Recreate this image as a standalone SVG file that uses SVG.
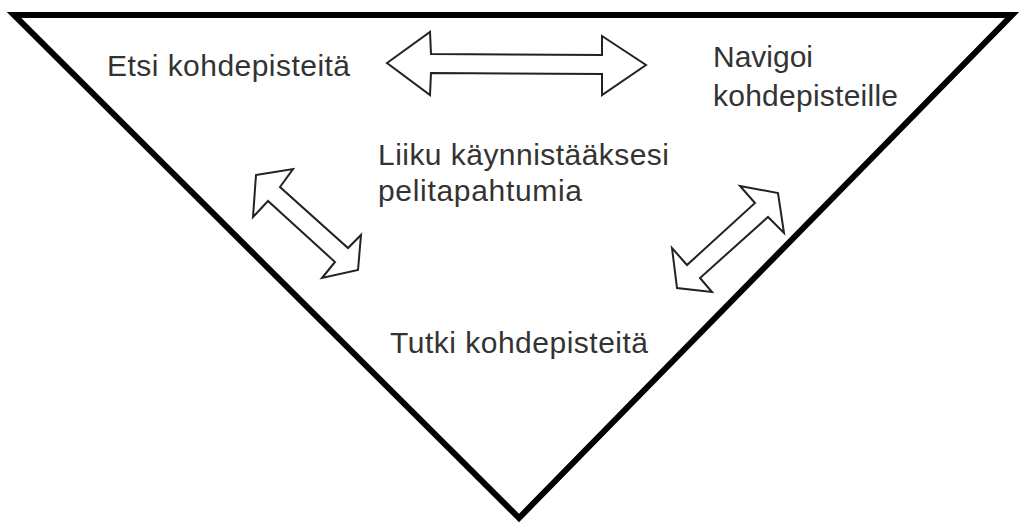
<svg xmlns="http://www.w3.org/2000/svg" width="1021" height="526" viewBox="0 0 1021 526">
  <style>
    .frame { fill: none; stroke: #000; stroke-width: 6; stroke-linejoin: miter; }
    .arrow { fill: #fff; stroke: #222; stroke-width: 2; stroke-linejoin: miter; }
    .label { font-family: "Liberation Sans", Arial, sans-serif; font-size: 30px; fill: #333; }
  </style>
  <rect width="1021" height="526" fill="#fff"/>
  <!-- inverted triangle frame -->
  <g id="frame">
    <polygon class="frame" points="14,15 1012,15 519,518"/>
  </g>
  <!-- double-headed arrows between the stages -->
  <g id="connectors">
    <polygon class="arrow" points="387,63 430,32 431,54 602,55 602,36 646,65 602,95 602,74 431,73 430,95"/>
    <polygon class="arrow" points="256,175 293,169 280,187 348,248 361,235 358,270 322,278 335,262 268,201 253,217"/>
    <polygon class="arrow" points="740,186 778,193 784,233 768,217 700,278 712,292 677,288 672,248 687,265 755,203"/>
  </g>
  <g id="search">
    <text class="label" x="107" y="76" textLength="243" lengthAdjust="spacing">Etsi kohdepisteitä</text>
  </g>
  <g id="navigate">
    <text class="label" x="713" y="67" textLength="100" lengthAdjust="spacing">Navigoi</text>
    <text class="label" x="713" y="106" textLength="185" lengthAdjust="spacing">kohdepisteille</text>
  </g>
  <g id="move">
    <text class="label" x="378" y="165" textLength="291" lengthAdjust="spacing">Liiku käynnistääksesi</text>
    <text class="label" x="378" y="201" textLength="204" lengthAdjust="spacing">pelitapahtumia</text>
  </g>
  <g id="explore">
    <text class="label" x="390" y="353" textLength="258" lengthAdjust="spacing">Tutki kohdepisteitä</text>
  </g>
</svg>
